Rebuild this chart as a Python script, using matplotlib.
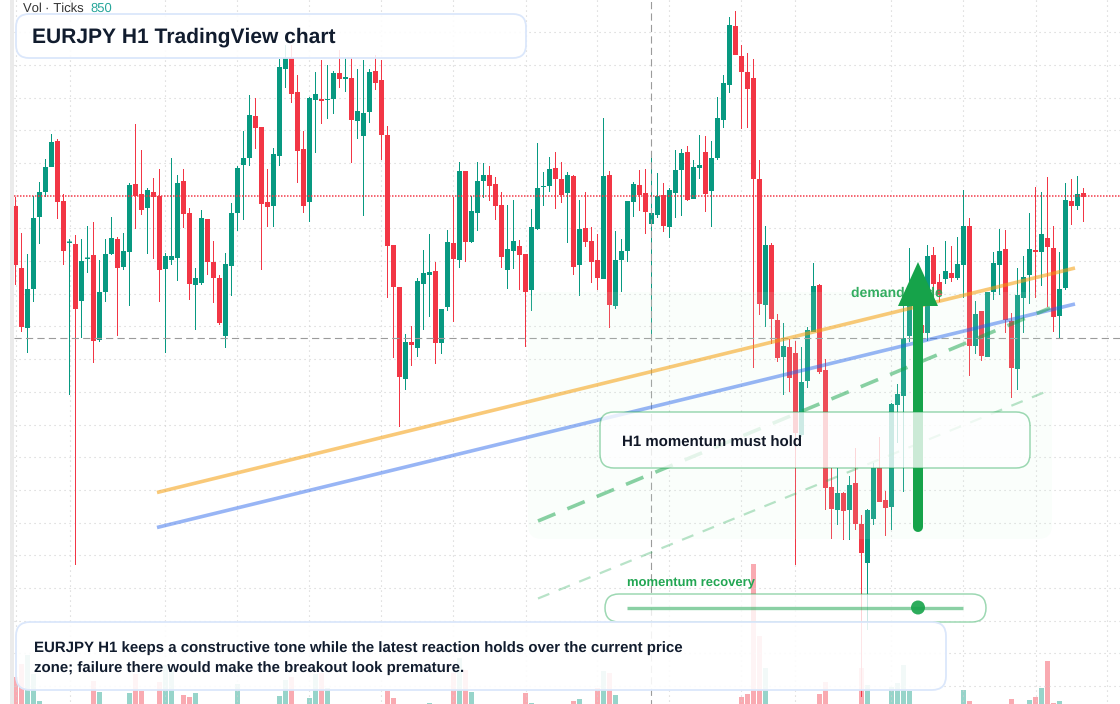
import matplotlib
matplotlib.use("Agg")
import matplotlib.pyplot as plt
from matplotlib.patches import FancyBboxPatch, Rectangle, Polygon, Circle

plt.rcParams['font.family'] = ['Liberation Sans', 'DejaVu Sans']
plt.rcParams['text.hinting'] = 'no_hinting'
plt.rcParams['text.hinting_factor'] = 1

# Candles: levels, on the chart's own (inverted) level scale
direction = list(
    "rrgggggrrg" "rggrgggrgg" "rrgrrgggrr" "ggrrrggggg" "rrrgggrrrg"
    "grggrgrggg" "rrrrrgrggg" "rggrgrgggr" "rrggrrgggg" "rrgrgrrrgr"
    "ggggrrggrg" "ggrggrgggg" "rrrrrgrrgr" "rgggrrrgrg" "rrggrrgggg"
    "grgrrgrggr" "grgggrrggg" "rgrrggrgr")
body_top = [206,268,289,218,192,167,142,141,201,241.5,
    244,261,257.5,255,292,254,238,239,251,185,
    184,194,190,192,196,256,256,183,181,213,
    278,218,219,262,278,264,213,168,158,115,
    116,127,202,154,67,57,57,92,149,98,
    94,99,99,73,73,77,78,111,113,72,
    71,80,135,245,287,342,342,281,273,272,
    271,309,242,243,171,171,211,181,175,175,
    184,205,249,241,246,254,227,188,186,169,
    168,179,175,176,229,228,241,260,176,175,
    260,251,201,184,185,193,213,196,195,190,
    170,153,152,167,165,152,158,118,83,25,
    26,56,72,78,179,245,245,320,346,347,
    353,382,330,286,285,370,487,493,493,485,
    483,524,510,468,468,500,404,394,338,306,
    330,325,256,255,282,271,273,264,226,226,
    314,311,292,263,251,249,321,295,277,249,
    250,234,238,248,289,200,201,194,193]
body_bot = [265,327,328,289,217,192,167,202,251,243,
    309,301,259,341,340,292,254,268,267,252,
    196,210,208,197,270,269,260,258,214,284,
    285,283,262,278,323,336,266,213,165,158,
    128,204,207,206,156,69,94,151,206,202,
    100,101,100,99,79,79,120,121,136,112,
    83,135,246,287,377,379,345,348,284,275,
    343,343,307,259,260,242,242,213,181,186,
    206,257,270,251,255,292,290,229,187,186,
    179,195,193,267,265,242,262,278,279,305,
    306,260,251,202,195,212,224,215,226,227,
    193,170,200,199,168,194,191,158,120,85,
    55,72,89,179,304,305,319,358,357,378,
    433,435,381,332,372,488,509,510,511,510,
    524,553,563,519,502,508,507,405,396,336,
    395,333,333,284,295,279,278,278,265,346,
    346,356,357,292,265,320,368,369,298,275,
    252,252,247,317,316,288,206,206,197]
wick_top = [197,233,254,196,182,159,134,139,194,239,
    235,239,226,222,260,239,217,237,233,183,
    124,150,188,178,169,253,158,175,169,208,
    268,210,219,241,275,253,203,166,131,95,
    98,127,169,148,59,45,45,75,131,97,
    72,60,65,71,50,58,58,69,60,69,
    55,60,126,245,287,334,326,278,250,234,
    262,309,230,197,162,171,196,162,163,166,
    177,192,205,200,240,254,209,143,172,157,
    152,162,172,175,200,192,227,234,118,171,
    231,239,201,182,170,169,156,173,183,188,
    150,149,146,160,135,136,141,97,75,17,
    11,45,53,59,160,226,243,314,323,339,
    341,347,327,263,284,359,468,468,492,476,
    448,515,509,463,437,491,403,384,305,248,
    300,325,245,247,274,241,246,237,190,218,
    301,311,292,252,229,230,313,268,256,213,
    187,192,177,226,252,183,179,176,188]
wick_bot = [285,332,353,302,244,197,167,219,265,395,
    565,338,273,363,342,302,255,336,270,306,
    229,215,254,259,302,353,265,281,228,300,
    330,285,275,303,325,348,296,231,220,166,
    149,270,227,227,166,88,103,183,213,222,
    153,124,119,114,88,92,163,139,216,123,
    90,160,298,358,427,390,366,357,330,317,
    364,354,311,322,268,262,243,231,198,201,
    220,268,289,269,290,347,311,230,206,192,
    209,203,243,275,296,247,283,290,279,328,
    309,292,262,217,211,234,335,218,232,238,
    218,216,201,199,179,212,227,160,128,93,
    55,129,128,368,315,327,344,362,395,392,
    565,437,388,332,374,510,539,525,540,540,
    530,697,630,525,502,536,530,443,492,342,
    400,333,341,302,302,284,282,280,298,376,
    354,361,357,300,295,333,398,390,333,304,
    298,286,307,332,338,290,225,210,222]

# Volume bars: candle index -> height
vol_index = [0,1,2,3,4,13,14,19,20,21,24,25,26,28,29,30,37,44,45,46,49,50,51,52,
             62,63,69,73,74,75,76,85,86,93,94,97,98,99,100,
             121,122,123,124,125,134,135,141,142,146,147,148,149,
             158,159,166,169,170,171,172,173,174]
vol_height = [27,40,49,30,3,23,12,11,30,13,22,39,34,9,7,11,20,8,24,27,6,30,31,16,
              13,6,1,31,46,34,12,11,1,3,5,16,33,31,9,
              7,10,140,68,36,10,22,36,19,17,21,39,13,
              14,3,5,4,7,16,43,1,3]
vol_dir = [direction[i] for i in vol_index]

# Reference levels
grid_levels = [32.3,65,97.7,130.3,163,228.4,261,293.7,326.4,359.1,391.8,424.5,
               457.1,489.8,522.5,555.2,587.9,620.5,653.2,685.9]
grid_bars = [0,9,25,37,49,61,73,85,97,109,121,130,146,158,170,182]
last_price_level = 196
cross_level = 338
cross_bar = 106

# Overlay drawings
orange_x, orange_y = [157, 1075], [492.5, 268]
blue_x, blue_y = [157, 1075], [527.5, 304]
green_x, green_y = [538, 1050], [521, 308]
pale_x, pale_y = [538, 1050], [598.5, 390]

GREEN, RED = '#089981', '#F23645'
colors = {'g': GREEN, 'r': RED}

fig = plt.figure(figsize=(11.2, 7.04), dpi=100, facecolor='white')
x_lim = (-15.5 / 6, (1120 - 15.5) / 6)
left_bar = -1.5 / 6
right_bar = x_lim[1]

ax_v = fig.add_axes([0, 0, 1, 1], zorder=1)
ax_v.set_xlim(*x_lim); ax_v.set_ylim(0, 704); ax_v.axis('off')
vol_bars = ax_v.bar(vol_index, vol_height, width=5 / 6, color=[colors[d] for d in vol_dir],
                    alpha=0.42, linewidth=0)
for p in vol_bars:
    p.set_snap(False)

ax = fig.add_axes([0, 0, 1, 1], zorder=2)
ax.patch.set_alpha(0)
ax.set_xlim(*x_lim); ax.set_ylim(704, 0); ax.axis('off')

grid_style = dict(color='#d0d0d0', lw=0.8, ls=(0, (1, 3.5)), zorder=1)
for g in grid_levels:
    ax.plot([left_bar, right_bar], [g, g], **grid_style)
for b in grid_bars:
    ax.plot([b, b], [0, 704], **grid_style)

for i, d in enumerate(direction):
    ax.plot([i, i], [wick_top[i], wick_bot[i]], color=colors[d], lw=0.72,
            solid_capstyle='butt', zorder=3, snap=False)
bodies = ax.bar(range(len(direction)), [b - t for t, b in zip(body_top, body_bot)], bottom=body_top,
                width=5 / 6, color=[colors[d] for d in direction], linewidth=0, zorder=4)
for p in bodies:
    p.set_snap(False)

ax.plot([left_bar, right_bar], [last_price_level] * 2, color=RED, lw=1.08,
        ls=(0, (1, 1)), zorder=5)
ax.plot([left_bar, right_bar], [cross_level] * 2, color='#9b9b9b', lw=0.8,
        ls=(0, (6.5, 3.8)), zorder=5)
ax.plot([cross_bar, cross_bar], [2, 704], color='#9b9b9b', lw=0.8,
        ls=(0, (6.5, 3.8)), zorder=5, snap=False)

# Overlay in figure pixels
ov = fig.add_axes([0, 0, 1, 1], zorder=3)
ov.patch.set_alpha(0)
ov.set_xlim(0, 1120); ov.set_ylim(704, 0); ov.axis('off')


def panel(x0, y0, x1, y1, r, face, edge, lw, z=10):
    p = FancyBboxPatch((x0 + r, y0 + r), x1 - x0 - 2 * r, y1 - y0 - 2 * r,
                       boxstyle=f"round,pad={r},rounding_size={r}",
                       facecolor=face, edgecolor=edge, linewidth=lw, zorder=z)
    ov.add_patch(p)
    return p


ov.add_patch(Rectangle((10, 0), 4, 704, facecolor='#ebebeb', edgecolor='none', zorder=12))

panel(528, 292, 1052, 539, 14, (216/255, 247/255, 226/255, 0.12), 'none', 0, z=6)

ov.text(851, 293.5, "demand trade", color='#22a653', fontsize=10.3, fontweight='bold',
        va='center', ha='left', zorder=7, alpha=0.92)

ov.plot(orange_x, orange_y, color='#f59e0b', alpha=0.55, lw=2.6, zorder=7, solid_capstyle='butt')
ov.plot(blue_x, blue_y, color='#2563eb', alpha=0.47, lw=2.6, zorder=7, solid_capstyle='butt')
ov.plot(green_x, green_y, color='#16a34a', alpha=0.5, lw=2.6, ls=(0, (5.2, 3.6)), zorder=7)
ov.plot(pale_x, pale_y, color='#16a34a', alpha=0.3, lw=1.6, ls=(0, (5.5, 4.5)), zorder=7)

ov.plot([918, 918], [527, 304], color='#16a34a', lw=7.2, solid_capstyle='round', zorder=8)
ov.add_patch(Polygon([(898, 306), (918, 262), (938, 306)], closed=True,
                     facecolor='#16a34a', edgecolor='none', zorder=8))

panel(600, 412, 1030, 468, 14, (1, 1, 1, 0.78), (22/255, 163/255, 74/255, 0.42), 1.1)
ov.text(622, 442.5, "H1 momentum must hold", color='#111827', fontsize=10.8,
        fontweight='bold', va='center', ha='left', zorder=11)

panel(605, 594, 986, 622, 14, (1, 1, 1, 0.78), (22/255, 163/255, 74/255, 0.42), 1.1)
ov.text(627, 583, "momentum recovery", color='#22a653', fontsize=9.36, fontweight='bold',
        va='center', ha='left', zorder=11)
ov.plot([627, 963], [607.5, 607.5], color='#16a34a', alpha=0.5, lw=2.4,
        solid_capstyle='butt', zorder=11)
ov.add_patch(Circle((918, 607.5), 7, facecolor='#16a34a', alpha=0.9, edgecolor='none', zorder=11))

panel(16, 14, 526, 58, 13, (1, 1, 1, 0.88), '#dbe7fb', 1.3, z=12)
ov.text(32, 37, "EURJPY H1 TradingView chart", color='#111c2e', fontsize=15.12,
        fontweight='bold', va='center', ha='left', zorder=13)

panel(16, 622, 946, 690, 14, (1, 1, 1, 0.88), '#dbe7fb', 1.3, z=12)
ov.text(34, 648.5, "EURJPY H1 keeps a constructive tone while the latest reaction holds over the current price",
        color='#111c2e', fontsize=10.8, fontweight='bold', va='center', ha='left', zorder=13)
ov.text(34, 668.5, "zone; failure there would make the breakout look premature.",
        color='#111c2e', fontsize=10.8, fontweight='bold', va='center', ha='left', zorder=13)

ov.text(23, 8.5, "Vol · Ticks", color='#333333', fontsize=9.36, va='center', ha='left', zorder=13)
ov.text(90, 8.5, "850", color='#26a69a', fontsize=9.36, va='center', ha='left', zorder=13)

fig.savefig('out.png', dpi=100)
